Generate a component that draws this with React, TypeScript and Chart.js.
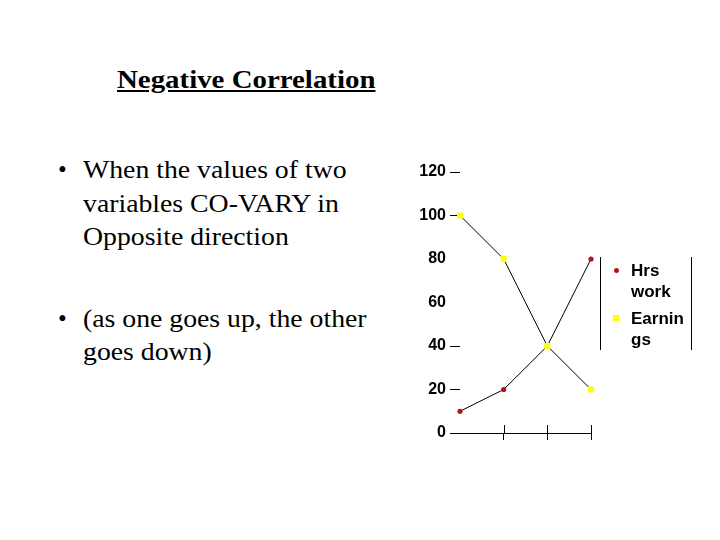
import { useEffect, useRef } from "react";
import { Chart, registerables } from "chart.js";

Chart.register(...registerables);

// values
const categories = ["1", "2", "3", "4"];
const hrsWork = [10, 20, 40, 80];
const earnings = [100, 80, 40, 20];
const seriesNames = ["Hrs work", "Earnings"];
const seriesColors = ["#b3141e", "#ffff00"];
const yMin = 0;
const yMax = 120;
const yStep = 20;
// tick dashes that are missing on the original axis
const yHiddenTickMarks = [60, 80];

const serif = "'Liberation Serif', 'Times New Roman', serif";
const sans = "'Liberation Sans', Arial, sans-serif";

// the x tick marks on the slide cross the axis line, so draw the upper half too
const crossTicks = {
  id: "crossTicks",
  afterDraw(chart: Chart) {
    const x = chart.scales.x;
    const c = chart.ctx;
    c.save();
    c.strokeStyle = "#000";
    c.lineWidth = 1;
    for (let i = 1; i < x.ticks.length; i++) {
      const px = Math.round(x.getPixelForTick(i)) + 0.5;
      c.beginPath();
      c.moveTo(px, x.top - 8);
      c.lineTo(px, x.top);
      c.stroke();
    }
    c.restore();
  },
};

const App = () => {
  const chartRef = useRef<HTMLCanvasElement>(null);
  const chartInstance = useRef<Chart | null>(null);

  useEffect(() => {
    if (!chartRef.current) return;
    if (chartInstance.current) chartInstance.current.destroy();
    const ctx = chartRef.current.getContext("2d");
    if (!ctx) return;

    chartInstance.current = new Chart(ctx, {
      type: "line",
      data: {
        labels: categories,
        datasets: [
          {
            label: seriesNames[1],
            data: earnings,
            order: 0,
            borderColor: "#000",
            borderWidth: 1,
            pointStyle: "rect",
            pointRadius: 4.2,
            pointBackgroundColor: seriesColors[1],
            pointBorderWidth: 0,
            clip: false,
          },
          {
            label: seriesNames[0],
            data: hrsWork,
            order: 1,
            borderColor: "#000",
            borderWidth: 1,
            pointStyle: "circle",
            pointRadius: 2.6,
            pointBackgroundColor: seriesColors[0],
            pointBorderWidth: 0,
            clip: false,
          },
        ],
      },
      options: {
        animation: false,
        responsive: true,
        maintainAspectRatio: false,
        layout: { padding: { top: 22, right: 19, left: 0, bottom: 0 } },
        plugins: {
          legend: { display: false },
          tooltip: { enabled: false },
        },
        scales: {
          x: {
            type: "category",
            offset: false,
            afterFit: (scale) => {
              scale.height = 17;
            },
            ticks: { display: false },
            grid: {
              display: true,
              drawOnChartArea: false,
              drawTicks: true,
              tickLength: 7,
              tickColor: (c) => (c.index === 0 ? "rgba(0,0,0,0)" : "#000"),
            },
            border: { display: true, color: "#000", width: 1 },
          },
          y: {
            min: yMin,
            max: yMax,
            afterFit: (scale) => {
              scale.width = 60;
            },
            ticks: {
              stepSize: yStep,
              color: "#000",
              padding: 4,
              font: { family: sans, size: 16, weight: "bold" },
            },
            grid: {
              display: true,
              drawOnChartArea: false,
              drawTicks: true,
              tickLength: 10,
              tickColor: (c) =>
                yHiddenTickMarks.includes(c.tick?.value) ? "rgba(0,0,0,0)" : "#000",
            },
            border: { display: false },
          },
        },
      },
      plugins: [crossTicks],
    });

    return () => {
      if (chartInstance.current) {
        chartInstance.current.destroy();
        chartInstance.current = null;
      }
    };
  }, []);

  const bullet = (top: number, lines: string[]) => (
    <div
      style={{
        position: "absolute",
        left: 58,
        top,
        fontFamily: serif,
        fontSize: 25,
        lineHeight: "33.5px",
        color: "#000",
      }}
    >
      <span style={{ position: "absolute", left: 0, top: 0 }}>•</span>
      <div
        style={{
          marginLeft: 25,
          whiteSpace: "nowrap",
          transform: "scaleX(1.11)",
          transformOrigin: "left top",
        }}
      >
        {lines.map((l) => (
          <div key={l}>{l}</div>
        ))}
      </div>
    </div>
  );

  const legendOrder = [0, 1];

  return (
    <div
      style={{
        position: "absolute",
        left: 0,
        top: 0,
        width: 720,
        height: 540,
        background: "#fff",
        overflow: "hidden",
      }}
    >
      <div
        style={{
          position: "absolute",
          left: 117,
          top: 68,
          fontFamily: serif,
          fontSize: 25,
          fontWeight: "bold",
          lineHeight: "24px",
          textDecoration: "underline",
          whiteSpace: "nowrap",
          transform: "scaleX(1.155)",
          transformOrigin: "left top",
        }}
      >
        Negative Correlation
      </div>

      {bullet(153, ["When the values of two", "variables CO-VARY in", "Opposite direction"])}
      {bullet(301.5, ["(as one goes up, the other", "goes down)"])}

      <div style={{ position: "absolute", left: 400, top: 150, width: 210, height: 300 }}>
        <canvas ref={chartRef}></canvas>
      </div>

      <div
        style={{
          position: "absolute",
          left: 600,
          top: 257,
          width: 90,
          height: 93,
          borderLeft: "1px solid #000",
          borderRight: "1px solid #000",
          fontFamily: sans,
          fontSize: 17,
          fontWeight: "bold",
          lineHeight: "21px",
        }}
      >
        {legendOrder.map((i, k) => (
          <div
            key={seriesNames[i]}
            style={{ position: "relative", marginTop: k === 0 ? 3 : 6, paddingLeft: 30 }}
          >
            <span
              style={{
                position: "absolute",
                left: i === 0 ? 13 : 12,
                top: i === 0 ? 8 : 7,
                width: i === 0 ? 5 : 6,
                height: i === 0 ? 5 : 6,
                borderRadius: i === 0 ? "50%" : 0,
                background: seriesColors[i],
              }}
            />
            <div style={{ width: 58, overflowWrap: "anywhere" }}>{seriesNames[i]}</div>
          </div>
        ))}
      </div>
    </div>
  );
};

export default App;
